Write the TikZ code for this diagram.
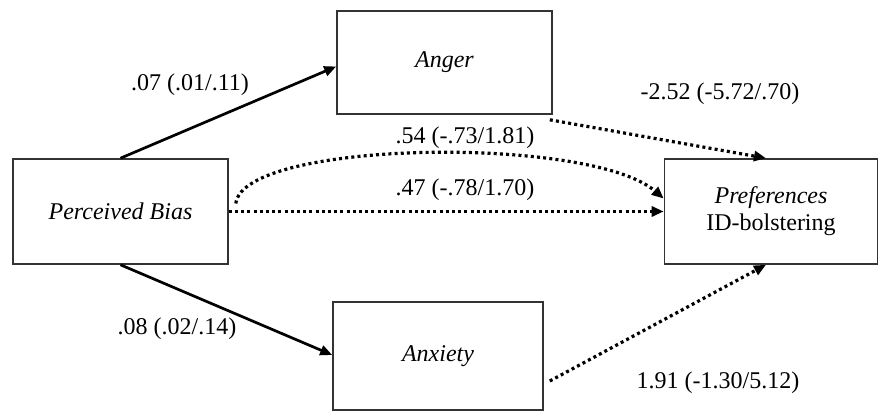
\documentclass[tikz,border=0pt]{standalone}
\usepackage{fontspec}
\setmainfont{Liberation Serif}
\usetikzlibrary{arrows.meta}
\tikzset{
  box/.style={draw=black!80, line width=1.6pt, fill=white, inner sep=0pt, align=center,
    font=\fontsize{24}{27}\selectfont},
  lbl/.style={font=\fontsize{24}{27}\selectfont, inner sep=0pt},
  solidarrow/.style={line width=2.7pt, -{Triangle[length=12pt,width=10pt]}},
  dotarrow/.style={line width=3.2pt, dash pattern=on 3pt off 3.2pt, -{Triangle[length=12pt,width=10pt]}}
}
\begin{document}
\begin{tikzpicture}[x=1pt,y=-1pt]
\useasboundingbox (0,0) rectangle (879,411);
\node[box, minimum width=215pt, minimum height=105pt] (pb) at (120.5,211.5) {\itshape Perceived Bias};
\node[box, minimum width=215pt, minimum height=103pt] (anger) at (444.5,62.5) {\itshape Anger};
\node[box, minimum width=210pt, minimum height=108pt] (anx) at (438,356) {\itshape Anxiety};
\node[box, minimum width=213pt, minimum height=105pt] (pref) at (771,211.5) {\textit{Preferences}\\ID-bolstering};

\draw[solidarrow] (pb.north) -- ([yshift=-4pt]anger.west);
\draw[solidarrow] (pb.south) -- ([yshift=1pt]anx.west);
\draw[dotarrow] ([xshift=-3pt,yshift=-5pt]anger.south east) -- ([xshift=-5pt]pref.north);
\draw[dotarrow] ([xshift=6pt,yshift=-25pt]anx.east) -- ([xshift=-5pt]pref.south);
\draw[dotarrow] (pb.east) -- (pref.west);
\coordinate (c1) at (243,140);
\coordinate (c2) at (590,135);
\draw[dotarrow] ([xshift=7pt,yshift=8pt]pb.east) .. controls (c1) and (c2) .. ([yshift=13pt]pref.west);

\node[lbl] (l1) at (190,85) {.07 (.01/.11)};
\node[lbl] (l2) at (177,329) {.08 (.02/.14)};
\node[lbl] (l3) at (720,94) {-2.52 (-5.72/.70)};
\node[lbl] (l4) at (718,383) {1.91 (-1.30/5.12)};
\node[lbl] (l5) at (465,138) {.54 (-.73/1.81)};
\node[lbl] (l6) at (465,190) {.47 (-.78/1.70)};
\end{tikzpicture}
\end{document}
